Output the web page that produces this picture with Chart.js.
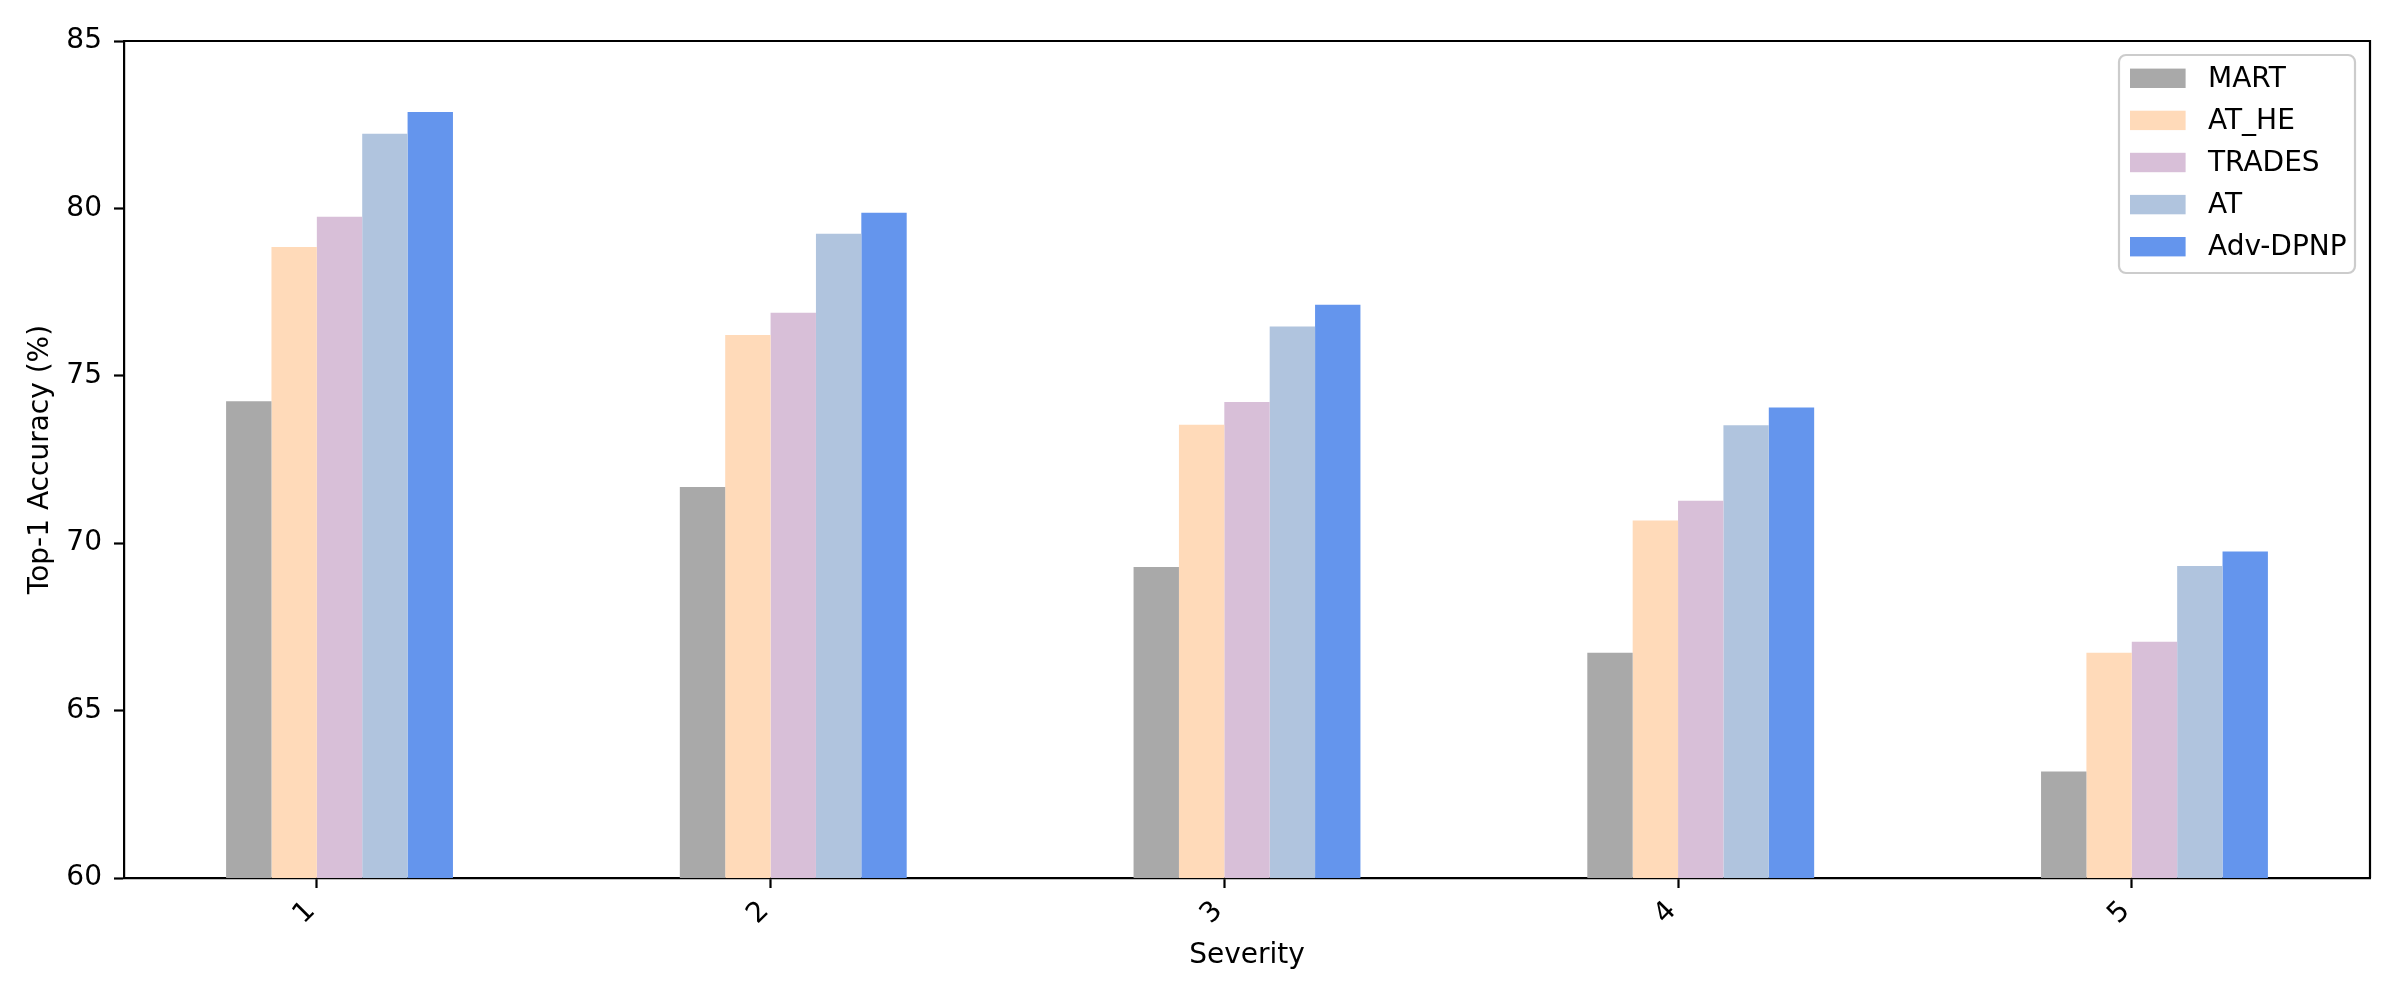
<!DOCTYPE html>
<html>
<head>
<meta charset="utf-8">
<script src="https://cdn.jsdelivr.net/npm/chart.js@4"></script>
<style>
  html, body { margin: 0; padding: 0; background: #ffffff; }
  #wrap { width: 2400px; height: 1000px; }
  canvas { display: block; }
</style>
</head>
<body>
<div id="wrap"><canvas id="c" width="2400" height="1000"></canvas></div>
<script>
// ---- data ----
const SEVERITY = [1, 2, 3, 4, 5];
const XTICK_LABELS = ['1', '2', '3', '4', '5'];
const SERIES_NAMES = ['MART', 'AT_HE', 'TRADES', 'AT', 'Adv-DPNP'];
const MART   = [74.24, 71.68, 69.29, 66.73, 63.18];
const AT_HE  = [78.85, 76.22, 73.54, 70.68, 66.73];
const TRADES = [79.75, 76.88, 74.22, 71.27, 67.06];
const AT     = [82.23, 79.24, 76.47, 73.52, 69.32];
const ADV    = [82.88, 79.87, 77.12, 74.05, 69.75];
const YTICKS = [60, 65, 70, 75, 80, 85];

// ---- styling ----
const COLORS = ['#A9A9A9', '#FFDAB9', '#D8BFD8', '#B0C4DE', '#6495ED'];
const BAR_W = 0.1;                 // bar width in x units
const GROUP_SHIFT = BAR_W / 2;     // groups sit half a bar to the right of the tick
const SERIES = [MART, AT_HE, TRADES, AT, ADV];

Chart.defaults.font.family = 'DejaVu Sans';
Chart.defaults.font.size = 28;
Chart.defaults.color = '#000000';

const LW = 2.2;

const framePlugin = {
  id: 'frame',
  afterDraw(chart) {
    const {ctx, chartArea: a} = chart;
    ctx.save();
    ctx.strokeStyle = '#000';
    ctx.lineWidth = LW;
    ctx.beginPath();
    ctx.moveTo(a.left, a.top);
    ctx.lineTo(a.right, a.top);
    ctx.lineTo(a.right, a.bottom);
    ctx.stroke();
    ctx.restore();
  }
};

const legendPlugin = {
  id: 'boxLegend',
  afterDraw(chart) {
    const {ctx} = chart;
    const ds = chart.data.datasets;
    const x0 = 2119, y0 = 55, w = 236, h = 218, r = 7;
    ctx.save();
    ctx.beginPath();
    ctx.moveTo(x0 + r, y0);
    ctx.arcTo(x0 + w, y0, x0 + w, y0 + h, r);
    ctx.arcTo(x0 + w, y0 + h, x0, y0 + h, r);
    ctx.arcTo(x0, y0 + h, x0, y0, r);
    ctx.arcTo(x0, y0, x0 + w, y0, r);
    ctx.closePath();
    ctx.fillStyle = 'rgba(255,255,255,0.8)';
    ctx.fill();
    ctx.strokeStyle = '#cccccc';
    ctx.lineWidth = LW;
    ctx.stroke();
    ctx.font = '28px "DejaVu Sans"';
    ctx.textBaseline = 'middle';
    ctx.textAlign = 'left';
    ds.forEach((d, i) => {
      const cy = 78.3 + i * 42.1;
      ctx.fillStyle = d.backgroundColor;
      ctx.fillRect(2130, cy - 9.7, 55.6, 19.4);
      ctx.fillStyle = '#000';
      ctx.fillText(d.label, 2208, cy + 1);
    });
    ctx.restore();
  }
};

const datasets = SERIES.map((vals, k) => ({
  label: SERIES_NAMES[k],
  data: vals.map((v, i) => ({x: SEVERITY[i] + GROUP_SHIFT, y: v})),
  backgroundColor: COLORS[k],
  borderWidth: 0,
  categoryPercentage: BAR_W * SERIES.length,
  barPercentage: 1.0
}));

new Chart(document.getElementById('c'), {
  type: 'bar',
  data: { datasets },
  options: {
    responsive: false,
    animation: false,
    devicePixelRatio: 1,
    layout: { padding: { left: 0, right: 30, top: 41, bottom: 0 } },
    plugins: { legend: { display: false }, tooltip: { enabled: false } },
    scales: {
      x: {
        type: 'linear',
        offset: false,
        min: 0.575,
        max: 5.525,
        afterBuildTicks: (s) => { s.ticks = SEVERITY.map(v => ({value: v})); },
        afterFit: (s) => { s.height = 122; },
        ticks: {
          callback: (v) => XTICK_LABELS[SEVERITY.indexOf(v)],
          minRotation: 45, maxRotation: 45,
          padding: 7,
          labelOffset: -6,
          font: { size: 28 }
        },
        grid: { offset: false, drawOnChartArea: false, drawTicks: true, tickLength: 10, tickWidth: LW, tickColor: '#000' },
        border: { display: true, color: '#000', width: LW },
        title: { display: true, text: 'Severity', font: { size: 28 }, padding: { top: 0, bottom: 27 } }
      },
      y: {
        min: 60,
        max: 85,
        afterBuildTicks: (s) => { s.ticks = YTICKS.map(v => ({value: v})); },
        afterFit: (s) => { s.width = 124; },
        ticks: { padding: 12, font: { size: 28 } },
        grid: { drawOnChartArea: false, drawTicks: true, tickLength: 10, tickWidth: LW, tickColor: '#000' },
        border: { display: true, color: '#000', width: LW },
        title: { display: true, text: 'Top-1 Accuracy (%)', font: { size: 28 }, padding: { top: 24, bottom: 0 } }
      }
    }
  },
  plugins: [framePlugin, legendPlugin]
});
</script>
</body>
</html>
